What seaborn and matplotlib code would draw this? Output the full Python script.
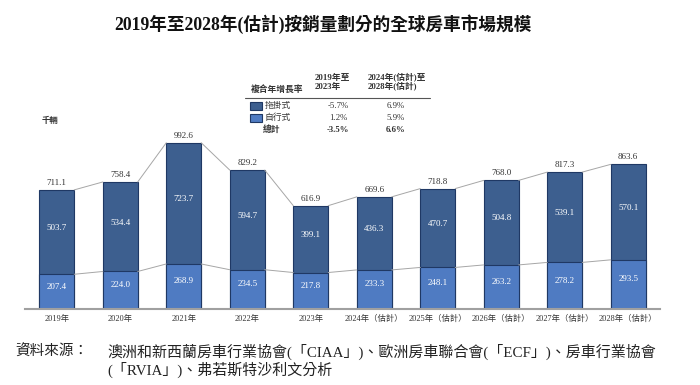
import numpy as np
import pandas as pd
import matplotlib
matplotlib.use("Agg")
import matplotlib.pyplot as plt
import seaborn as sns
from matplotlib.patches import Rectangle

# data
years = ["2019年", "2020年", "2021年", "2022年", "2023年",
         "2024年（估計）", "2025年（估計）", "2026年（估計）", "2027年（估計）", "2028年（估計）"]
towed = [503.7, 534.4, 723.7, 594.7, 399.1, 436.3, 470.7, 504.8, 539.1, 570.1]
motorized = [207.4, 224.0, 268.9, 234.5, 217.8, 233.3, 248.1, 263.2, 278.2, 293.5]
totals = [711.1, 758.4, 992.6, 829.2, 616.9, 669.6, 718.8, 768.0, 817.3, 863.6]

cagr_rows = ["拖掛式", "自行式", "總計"]
cagr_hist = ["-5.7%", "1.2%", "-3.5%"]
cagr_fcst = ["6.9%", "5.9%", "6.6%"]

title = "2019年至2028年(估計)按銷量劃分的全球房車市場規模"
source_1 = "澳洲和新西蘭房車行業協會(「CIAA」)、歐洲房車聯合會(「ECF」)、房車行業協會"
source_2 = "(「RVIA」)、弗若斯特沙利文分析"

DARK = "#3d5f8f"
LIGHT = "#4f7bc2"
EDGE = "#1f3864"
TXT = "#333333"

sns.set_style("white")
plt.rcParams["font.family"] = ["Liberation Serif", "Noto Sans CJK TC", "DejaVu Sans"]

df = pd.DataFrame({"year": years, "total": totals, "motorized": motorized, "towed": towed})

W, H = 700, 385
fig = plt.figure(figsize=(W / 100, H / 100), dpi=100)


def px(x, y):
    return x / W, 1 - y / H


ax = fig.add_axes([25 / W, 1 - 309 / H, 635 / W, (309 - 141.5) / H])
bw = 0.55

# stacked look: total bar in dark, motorized drawn over it in light
sns.barplot(data=df, x="year", y="total", color=DARK, saturation=1, width=bw,
            edgecolor=EDGE, linewidth=0.8, ax=ax)
sns.barplot(data=df, x="year", y="motorized", color=LIGHT, saturation=1, width=bw,
            edgecolor=EDGE, linewidth=0.8, ax=ax)

# grey connectors between the bars
for i in range(len(years) - 1):
    for s in (totals, motorized):
        ax.plot([i + bw / 2, i + 1 - bw / 2], [s[i], s[i + 1]],
                color="#a6a6a6", lw=0.7, zorder=1)

for i in range(len(years)):
    ax.text(i, totals[i] + 18, f"{totals[i]:.1f}", ha="center", va="bottom",
            fontsize=6.5, color=TXT)
    ax.text(i, motorized[i] + towed[i] / 2 + 25, f"{towed[i]:.1f}", ha="center",
            va="center", fontsize=6.5, color="white")
    ax.text(i, motorized[i] / 2 + 30, f"{motorized[i]:.1f}", ha="center",
            va="center", fontsize=6.5, color="white")

ax.set_xlim(-0.5, len(years) - 0.5)
ax.set_ylim(0, 1000)
ax.set_xlabel("")
ax.set_ylabel("")
ax.set_yticks([])
ax.tick_params(axis="x", length=0, labelsize=6, pad=4, labelcolor=TXT)
for sp in ["top", "left", "right"]:
    ax.spines[sp].set_visible(False)
ax.spines["bottom"].set_color("#a0a0a0")
ax.spines["bottom"].set_linewidth(1.5)

# unit label
fig.text(*px(42, 121), "千輛", fontsize=6, fontweight="bold", va="center", color=TXT)

# title
fig.text(*px(323, 24), title, fontsize=12.7, fontweight="bold", ha="center", va="center",
         color="#111111")

# CAGR table
fs = 6.3
fig.text(*px(251, 89), "複合年增長率", fontsize=fs, va="center", fontweight="bold", color=TXT)
fig.text(*px(315, 78), "2019年至", fontsize=fs, va="center", fontweight="bold", color=TXT)
fig.text(*px(315, 87), "2023年", fontsize=fs, va="center", fontweight="bold", color=TXT)
fig.text(*px(368, 78), "2024年(估計)至", fontsize=fs, va="center", fontweight="bold", color=TXT)
fig.text(*px(368, 87), "2028年(估計)", fontsize=fs, va="center", fontweight="bold", color=TXT)
fig.add_artist(plt.Line2D([245 / W, 430 / W], [1 - 98 / H] * 2, color="#555555", lw=0.8))

row_y = [105.5, 117.5, 129.5]
for r, (name, h, f) in enumerate(zip(cagr_rows, cagr_hist, cagr_fcst)):
    y = row_y[r]
    bold = "bold" if r == 2 else "normal"
    if r < 2:
        fig.add_artist(Rectangle((250 / W, 1 - (y + 4) / H), 12 / W, 8 / H,
                                 facecolor=[DARK, LIGHT][r], edgecolor=EDGE, lw=0.8,
                                 transform=fig.transFigure))
        fig.text(*px(265, y), name, fontsize=fs, va="center", color=TXT)
    else:
        fig.text(*px(263, y), name, fontsize=fs, va="center", fontweight="bold", color=TXT)
    fig.text(*px(338, y), h, fontsize=fs, va="center", ha="center", fontweight=bold, color=TXT)
    fig.text(*px(396, y), f, fontsize=fs, va="center", ha="center", fontweight=bold, color=TXT)

# source note
fig.text(*px(15, 352), "資料來源：", fontsize=10.5, va="center", color="#222222")
fig.text(*px(107, 352), source_1, fontsize=10.8, va="center", color="#222222")
fig.text(*px(107, 370), source_2, fontsize=10.8, va="center", color="#222222")

fig.savefig("out.png", dpi=100)
